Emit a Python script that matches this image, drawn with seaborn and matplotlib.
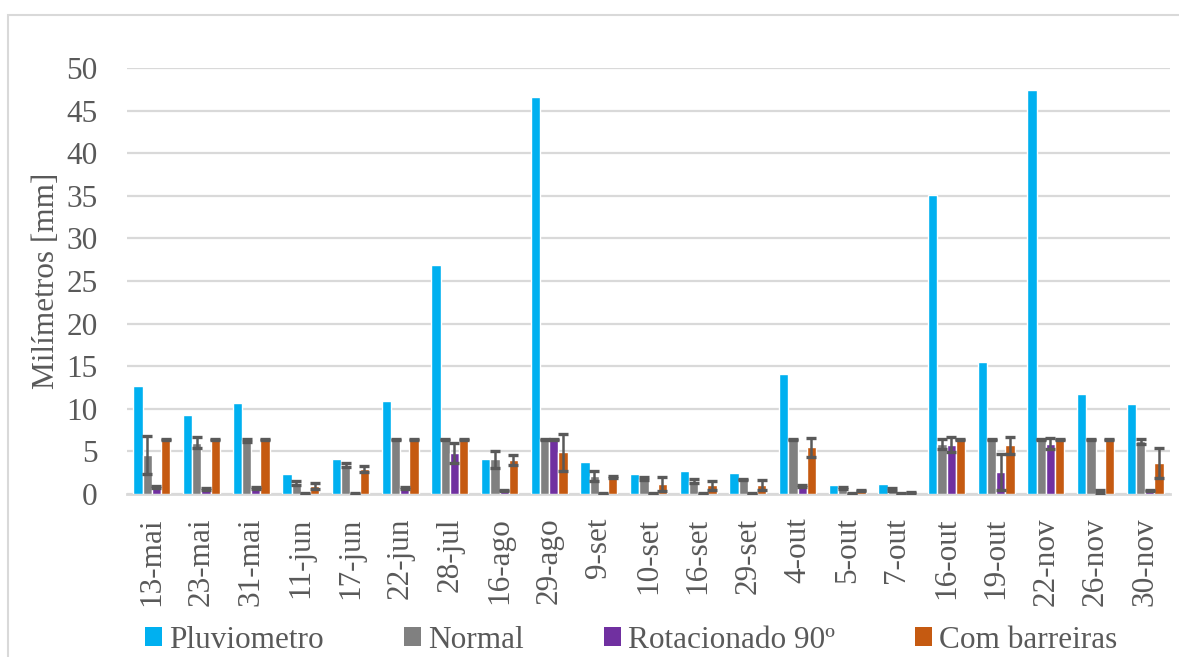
import numpy as np
import pandas as pd
import matplotlib
matplotlib.use("Agg")
import matplotlib.pyplot as plt
import seaborn as sns
from matplotlib.patches import Patch, Rectangle

# Collection dates
dates = ["13-mai", "23-mai", "31-mai", "11-jun", "17-jun", "22-jun", "28-jul",
         "16-ago", "29-ago", "9-set", "10-set", "16-set", "29-set", "4-out",
         "5-out", "7-out", "16-out", "19-out", "22-nov", "26-nov", "30-nov"]

series = ["Pluviometro", "Normal", "Rotacionado 90º", "Com barreiras"]

# Collected water (mm)
pluviometro = [12.7, 9.3, 10.7, 2.4, 4.1, 10.9, 26.9, 4.1, 46.6, 3.7, 2.4,
               2.7, 2.5, 14.1, 1.1, 1.2, 35.1, 15.5, 47.4, 11.7, 10.6]
normal = [4.6, 6.0, 6.3, 1.3, 3.4, 6.4, 6.4, 4.1, 6.4, 2.1, 1.8,
          1.5, 1.7, 6.4, 0.7, 0.5, 5.9, 6.4, 6.4, 6.4, 6.2]
rotacionado = [0.8, 0.6, 0.7, 0.1, 0.1, 0.7, 4.8, 0.4, 6.4, 0.1, 0.1,
               0.1, 0.1, 0.9, 0.1, 0.1, 5.8, 2.6, 5.9, 0.3, 0.4]
barreiras = [6.4, 6.4, 6.4, 0.9, 2.9, 6.4, 6.4, 4.0, 4.9, 2.0, 1.2,
             1.0, 1.05, 5.5, 0.4, 0.15, 6.4, 5.7, 6.4, 6.4, 3.6]

# Standard deviations
normal_err = [2.2, 0.65, 0.15, 0.2, 0.25, 0.05, 0.05, 1.0, 0.05, 0.55, 0.2,
              0.25, 0.1, 0.05, 0.1, 0.2, 0.6, 0.05, 0.05, 0.05, 0.3]
rotacionado_err = [0.1, 0.1, 0.1, 0.05, 0.05, 0.1, 1.2, 0.1, 0.05, 0.05, 0.05,
                   0.05, 0.05, 0.1, 0.05, 0.05, 0.9, 2.1, 0.65, 0.2, 0.1]
barreiras_err = [0.05, 0.05, 0.05, 0.35, 0.35, 0.05, 0.05, 0.6, 2.2, 0.1, 0.85,
                 0.5, 0.6, 1.1, 0.1, 0.05, 0.05, 1.0, 0.05, 0.05, 1.75]

colors = ["#00B0F0", "#808080", "#7030A0", "#C55A11"]
text_color = "#595959"
grid_color = "#D9D9D9"

sns.set_style("white")
plt.rcParams["font.family"] = ["Liberation Serif", "DejaVu Serif"]

df = pd.DataFrame({
    "data": dates * len(series),
    "serie": np.repeat(series, len(dates)),
    "mm": pluviometro + normal + rotacionado + barreiras,
})

fig = plt.figure(figsize=(11.79, 6.57), dpi=100)
ax = fig.add_axes([0.1077, 0.2481, 0.8847, 0.6484])

sns.barplot(data=df, x="data", y="mm", hue="serie", order=dates,
            hue_order=series, palette=colors, saturation=1, width=0.745,
            gap=0, errorbar=None, legend=False, ax=ax, zorder=2)

# Error bars on the three collector types
for cont, vals, errs in zip(ax.containers[1:],
                            [normal, rotacionado, barreiras],
                            [normal_err, rotacionado_err, barreiras_err]):
    xs = [p.get_x() + p.get_width() / 2 for p in cont]
    ax.errorbar(xs, vals, yerr=errs, fmt="none", ecolor=text_color,
                elinewidth=1.8, capsize=3.6, capthick=2.4, zorder=3)

ax.set_ylim(0, 50)
ax.set_xlim(-0.5, len(dates) - 0.5)
ax.set_yticks(range(0, 51, 5))
ax.yaxis.grid(True, color=grid_color, lw=1.6, zorder=0)
ax.set_axisbelow(True)
for side in ["top", "right", "left"]:
    ax.spines[side].set_visible(False)
ax.spines["bottom"].set_color(grid_color)
ax.spines["bottom"].set_linewidth(2)
ax.spines["bottom"].set_zorder(1)

ax.tick_params(axis="y", length=0, pad=21, labelsize=22.5, labelcolor=text_color)
ax.tick_params(axis="x", length=0, pad=17, labelsize=22.5, labelcolor=text_color,
               rotation=90)
ax.set_xlabel("")
ax.set_ylabel("Milímetros [mm]", fontsize=22.5, color=text_color)
ax.yaxis.set_label_coords(-0.063, 0.5)

handles = [Patch(facecolor=c, edgecolor="none") for c in colors]
fig.legend(handles, series, loc="center", bbox_to_anchor=(631 / 1179, 1 - 640 / 657),
           ncol=4, frameon=False, fontsize=22.5, handlelength=0.55,
           handleheight=0.55, handletextpad=0.22, columnspacing=2.56,
           labelcolor=text_color, borderpad=0, borderaxespad=0)

# Chart-area border
fig.patches.append(Rectangle((8 / 1179, -0.01), 1.0, 1 - 15 / 657 + 0.01,
                             transform=fig.transFigure, fill=False,
                             edgecolor=grid_color, lw=1.5))

fig.savefig("out.png", dpi=100)
